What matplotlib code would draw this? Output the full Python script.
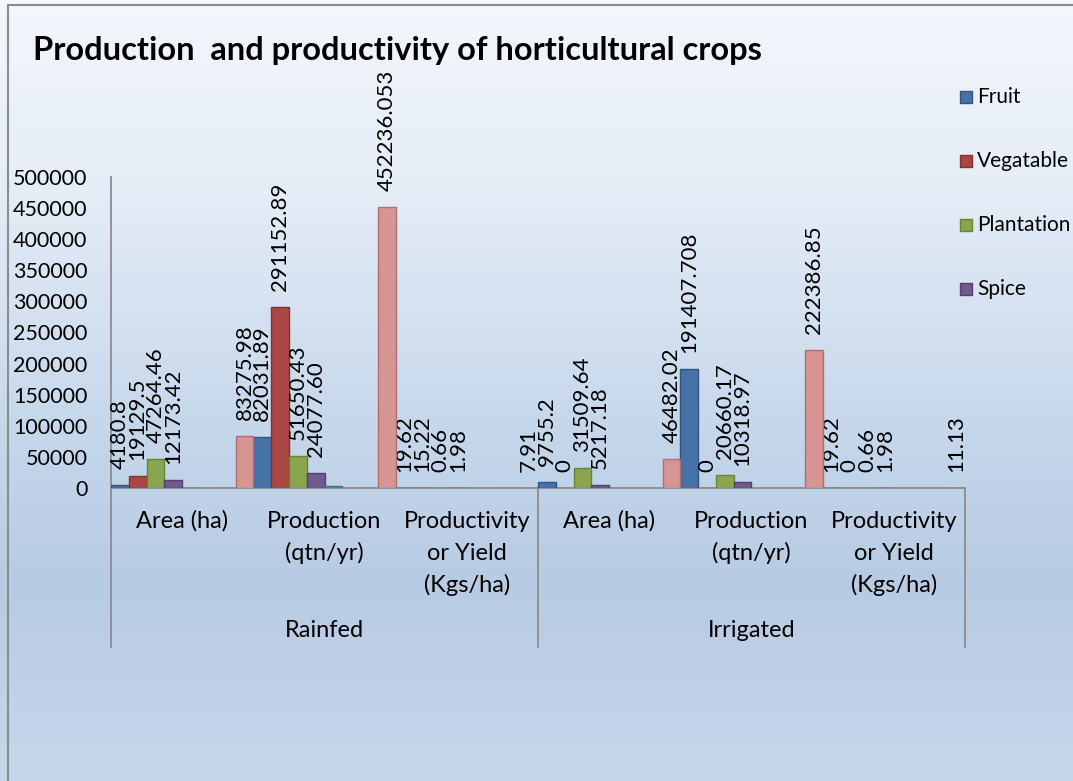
import numpy as np
import matplotlib
matplotlib.use("Agg")
import matplotlib.pyplot as plt
from matplotlib.colors import LinearSegmentedColormap
from matplotlib.patches import Rectangle

plt.rcParams['font.family'] = ['Lato', 'DejaVu Sans']

# ---------------- data ----------------
title = "Production  and productivity of horticultural crops"
groups = ["Rainfed", "Irrigated"]
measures = [["Area (ha)"], ["Production", "(qtn/yr)"], ["Productivity", "or Yield", "(Kgs/ha)"]]
series_names = ["Fruit", "Vegatable", "Plantation", "Spice", "Series5", "Series6", "Series7", "Total"]

fruit = ["4180.8", "82031.89", "19.62", "9755.2", "191407.708", "19.62"]
vegetable = ["19129.5", "291152.89", "15.22", "0", "0", "0"]
plantation = ["47264.46", "51650.43", "0.66", "31509.64", "20660.17", "0.66"]
spice = ["12173.42", "24077.60", "1.98", "5217.18", "10318.97", "1.98"]
series5 = [527.8, 3323.24, 0, None, None, None]
series6 = [0, 0, 0, None, None, None]
series7 = [0, 0, 0, None, None, None]
total = ["83275.98", "452236.053", "7.91", "46482.02", "222386.85", "11.13"]

colors = ["#4672A8", "#AA4643", "#89A54E", "#71588F", "#4198AF", "#DB843D", "#93A9CF", "#D69593"]
edges = ["#2F5583", "#87302D", "#6A8436", "#54406F", "#2C7A8F", "#B5652A", "#6F87B2", "#B06E6C"]

all_series = [fruit, vegetable, plantation, spice, series5, series6, series7, total]
labelled = [True, True, True, True, False, False, False, True]

W, H = 1073, 781
fig = plt.figure(figsize=(W / 100, H / 100), dpi=100)

# background gradient
bg = fig.add_axes([0, 0, 1, 1], zorder=-10)
cmap = LinearSegmentedColormap.from_list(
    "bg", [(0.0, "#F4F7FC"), (0.25, "#E4ECF6"), (0.55, "#C6D7EB"),
           (0.75, "#B7CBE4"), (1.0, "#C7D7EB")])
grad = np.linspace(0, 1, 256).reshape(-1, 1)
bg.imshow(grad, aspect="auto", cmap=cmap, extent=[0, 1, 0, 1], origin="upper")
bg.set_xlim(0, 1)
bg.set_ylim(0, 1)
bg.axis("off")
# chart border (left and top)
bg.plot([8 / W, 8 / W], [0, 1 - 5 / H], color="#8C8C8C", lw=1.5)
bg.plot([8 / W, 1], [1 - 5 / H, 1 - 5 / H], color="#8C8C8C", lw=1.5)

# main axes
x0, x1 = 111 / W, 965 / W
y0, y1 = 1 - 488 / H, 1 - 177 / H
ax = fig.add_axes([x0, y0, x1 - x0, y1 - y0])
ax.set_facecolor("none")

ncat = 6
nser = len(all_series)
bw = 1.0 / nser
xc = np.arange(ncat)
for i, s in enumerate(all_series):
    vals = np.array([np.nan if v is None else float(v) for v in s])
    xs = xc - 0.5 + bw * (i + 0.5)
    for x, v, raw in zip(xs, vals, s):
        if np.isnan(v):
            continue
        ax.bar(x, v, width=bw, color=colors[i], edgecolor=edges[i],
               linewidth=1.0 if v > 0 else 0.8, zorder=3)
        if labelled[i]:
            ax.annotate(str(raw), (x, v), xytext=(0, 11.5), textcoords="offset points",
                        rotation=90, ha="center", va="bottom", fontsize=16,
                        color="black", annotation_clip=False)

ax.set_xlim(-0.5, ncat - 0.5)
ax.set_ylim(0, 500000)
ax.set_yticks(np.arange(0, 500001, 50000))
ax.set_yticklabels([str(v) for v in range(0, 500001, 50000)], fontsize=15.5)
ax.tick_params(axis="y", length=0, pad=17)
ax.set_xticks([])
for sp in ["top", "right"]:
    ax.spines[sp].set_visible(False)
ax.spines["left"].set_color("#8C8C8C")
ax.spines["bottom"].set_color("#8C8C8C")
ax.spines["left"].set_linewidth(1.3)
ax.spines["bottom"].set_linewidth(1.3)

# multi-level category axis
tr = ax.get_xaxis_transform()
ppx = 1.0 / (488 - 177)  # axes fraction per pixel
line_y = [521, 553, 585]
for g, gname in enumerate(groups):
    for m, lines in enumerate(measures):
        cx = g * 3 + m
        for k, ln in enumerate(lines):
            ax.text(cx, -(line_y[k] - 488) * ppx, ln, transform=tr, ha="center",
                    va="center", fontsize=17, clip_on=False)
    ax.text(g * 3 + 1, -(631 - 488) * ppx, gname, transform=tr, ha="center",
            va="center", fontsize=17, clip_on=False)
for bx in [-0.5, 2.5, 5.5]:
    ax.plot([bx, bx], [0, -(647 - 488) * ppx], transform=tr, color="#8C8C8C",
            lw=1.3, clip_on=False)

# title
fig.text(33 / W, 1 - 60 / H, title, fontsize=23.5, fontweight="bold",
         ha="left", va="baseline")

# legend (first four series shown, as in the original)
leg_y = [97, 161, 225, 289]
for i in range(4):
    fig.patches.append(Rectangle((960 / W, 1 - (leg_y[i] + 6) / H), 12 / W, 12 / H,
                                 transform=fig.transFigure, facecolor=colors[i],
                                 edgecolor=edges[i], lw=1.0))
    fig.text(977 / W, 1 - leg_y[i] / H, series_names[i], fontsize=15,
             ha="left", va="center")

fig.savefig("out.png", dpi=100)
